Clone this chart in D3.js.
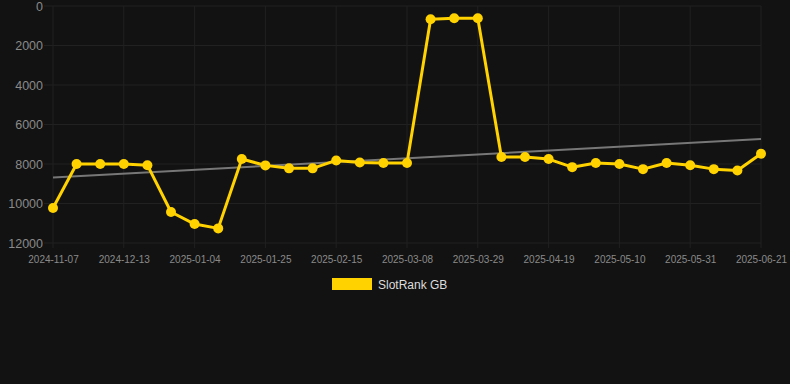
<!DOCTYPE html>
<html>
<head>
<meta charset="utf-8">
<script src="https://cdn.jsdelivr.net/npm/d3@7"></script>
<style>
  html, body { margin: 0; padding: 0; background: #121212; }
  svg { display: block; font-family: "Liberation Sans", Arial, sans-serif; }
</style>
</head>
<body>
<svg id="chart"></svg>
<script>
// weekly snapshot dates (only every third one is labelled)
const dates = [
  "2024-11-07", "2024-11-19", "2024-12-01", "2024-12-13", "2024-12-20", "2024-12-27",
  "2025-01-04", "2025-01-11", "2025-01-18", "2025-01-25", "2025-02-01", "2025-02-08",
  "2025-02-15", "2025-02-22", "2025-03-01", "2025-03-08", "2025-03-15", "2025-03-22",
  "2025-03-29", "2025-04-05", "2025-04-12", "2025-04-19", "2025-04-26", "2025-05-03",
  "2025-05-10", "2025-05-17", "2025-05-24", "2025-05-31", "2025-06-07", "2025-06-14",
  "2025-06-21"
];
const rankGB = [
  10230, 8000, 8000, 8000, 8060, 10430, 11040, 11260, 7750, 8070, 8220, 8220,
  7820, 7920, 7950, 7950, 670, 620, 620, 7650, 7650, 7750, 8160, 7950,
  8000, 8260, 7950, 8060, 8260, 8330, 7480
];
const trendEnds = [8680, 6740];
const yTicks = [0, 2000, 4000, 6000, 8000, 10000, 12000];
const seriesName = "SlotRank GB";

const svgWidth = 790;
const svgHeight = 384;
const margin = { top: 6, right: 29, bottom: 141, left: 53 };
const width = svgWidth - margin.left - margin.right;
const height = svgHeight - margin.top - margin.bottom;

const svg = d3.select("#chart")
  .attr("width", svgWidth)
  .attr("height", svgHeight);

const g = svg.append("g")
  .attr("transform", "translate(" + margin.left + "," + margin.top + ")");

const x = d3.scalePoint()
  .domain(dates)
  .range([0, width]);

// rank axis is reversed: 0 on top
const y = d3.scaleLinear()
  .domain([0, 12000])
  .range([0, height]);

const labelled = dates.filter((d, i) => i % 3 === 0);

// grid
g.append("g")
  .selectAll("line")
  .data(yTicks)
  .join("line")
  .attr("x1", -9)
  .attr("x2", width)
  .attr("y1", (d) => y(d))
  .attr("y2", (d) => y(d))
  .attr("stroke", "#212121")
  .attr("stroke-width", 1);

g.append("g")
  .selectAll("line")
  .data(labelled)
  .join("line")
  .attr("x1", (d) => x(d))
  .attr("x2", (d) => x(d))
  .attr("y1", 0)
  .attr("y2", height + 5)
  .attr("stroke", "#212121")
  .attr("stroke-width", 1);

// axes
const yAxis = d3.axisLeft(y).tickValues(yTicks).tickSize(0).tickPadding(10).tickFormat(d3.format("d"));
const xAxis = d3.axisBottom(x).tickValues(labelled).tickSize(0).tickPadding(13);

g.append("g")
  .call(yAxis)
  .call((a) => a.select(".domain").remove())
  .selectAll("text")
  .attr("fill", "#8a8a8a")
  .attr("font-size", 12.5);

g.append("g")
  .attr("transform", "translate(0," + height + ")")
  .call(xAxis)
  .call((a) => a.select(".domain").remove())
  .selectAll("text")
  .attr("fill", "#8a8a8a")
  .attr("font-size", 10);

// trend line
g.append("line")
  .attr("x1", x(dates[0]))
  .attr("x2", x(dates[dates.length - 1]))
  .attr("y1", y(trendEnds[0]))
  .attr("y2", y(trendEnds[1]))
  .attr("stroke", "#777")
  .attr("stroke-width", 2);

const line = d3.line()
  .x((d, i) => x(dates[i]))
  .y((d) => y(d));

g.append("path")
  .datum(rankGB)
  .attr("fill", "none")
  .attr("stroke", "#FFD200")
  .attr("stroke-width", 3)
  .attr("stroke-linejoin", "round")
  .attr("d", line);

g.selectAll("circle")
  .data(rankGB)
  .join("circle")
  .attr("cx", (d, i) => x(dates[i]))
  .attr("cy", (d) => y(d))
  .attr("r", 5)
  .attr("fill", "#FFD200");

// legend
const legend = svg.append("g")
  .attr("transform", "translate(332,278)");

legend.append("rect")
  .attr("width", 40)
  .attr("height", 12)
  .attr("fill", "#FFD200");

legend.append("text")
  .attr("x", 46)
  .attr("y", 10.5)
  .attr("fill", "#dddddd")
  .attr("font-size", 12)
  .text(seriesName);
</script>
</body>
</html>
